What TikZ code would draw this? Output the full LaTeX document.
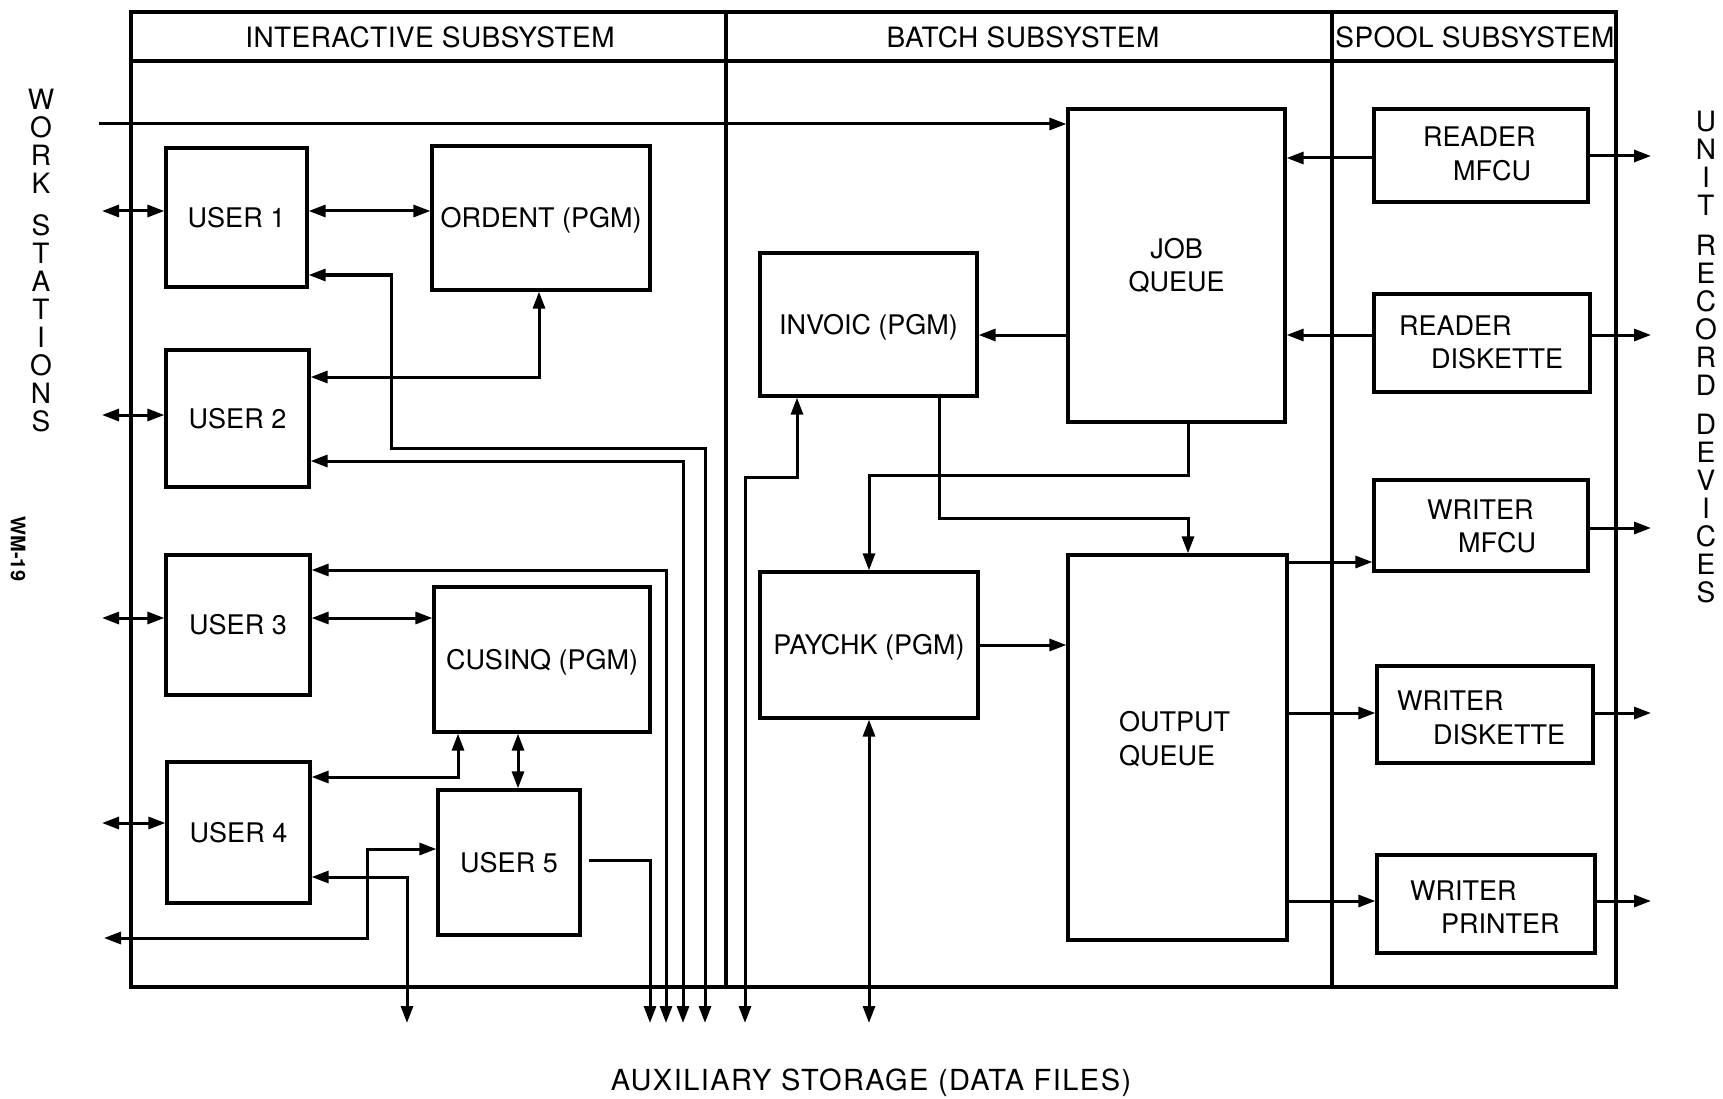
\documentclass[tikz,border=0pt]{standalone}
\usepackage{fontspec}
\setmainfont{TeX Gyre Heros}
\usetikzlibrary{arrows.meta}
\tikzset{
  box/.style={draw, line width=3.2pt, inner sep=0pt, text height=19.4pt, text depth=0pt, font=\fontsize{27}{33}\selectfont},
  boxm/.style={draw, line width=3.2pt, inner sep=0pt, align=center, font=\fontsize{27}{33}\selectfont},
  boxe/.style={draw, line width=3.2pt, inner sep=0pt},
  lbl/.style={inner sep=0pt, anchor=base west, font=\fontsize{27}{33}\selectfont},
  conn/.style={line width=3pt},
  frm/.style={line width=3.3pt},
  hdr/.style={inner sep=0pt, text height=20pt, text depth=0pt, font=\fontsize{28}{28}\selectfont\addfontfeature{LetterSpace=1.5}},
  stack/.style={inner sep=0pt, align=center, font=\fontsize{28}{28}\selectfont},
}
\begin{document}
\begin{tikzpicture}[x=1pt,y=-1pt, >={Triangle[length=17pt,width=12pt]}]
\useasboundingbox (0,0) rectangle (1723,1099);
\fill[white] (0,0) rectangle (1723,1099);

% frame
\draw[frm] (131,12) rectangle (1616,987);
\draw[frm] (131,61) -- (1616,61);
\draw[frm] (726,12) -- (726,987);
\draw[frm] (1332,12) -- (1332,987);
\node[hdr] (hint) at (430,38) {INTERACTIVE SUBSYSTEM};
\node[hdr] (hbat) at (1023,38) {BATCH SUBSYSTEM};
\node[hdr] (hspo) at (1475,38) {SPOOL SUBSYSTEM};

% boxes
\node[box, minimum width=141pt, minimum height=139pt] (u1) at (236.5,217.5) {USER 1};
\node[box, minimum width=218pt, minimum height=144pt] (ord) at (541,218) {ORDENT (PGM)};
\node[box, minimum width=143pt, minimum height=137pt] (u2) at (237.5,418.5) {USER 2};
\node[box, minimum width=144pt, minimum height=140pt] (u3) at (238,625) {USER 3};
\node[box, minimum width=216pt, minimum height=145pt] (cus) at (542,659.5) {CUSINQ (PGM)};
\node[box, minimum width=143pt, minimum height=141pt] (u4) at (238.5,832.5) {USER 4};
\node[box, minimum width=142pt, minimum height=145pt] (u5) at (509,862.5) {USER 5};
\node[box, minimum width=217pt, minimum height=143pt] (inv) at (868.5,324.5) {INVOIC (PGM)};
\node[boxm, minimum width=217pt, minimum height=313pt] (jq) at (1176.5,265.5) {JOB\\QUEUE};
\node[box, minimum width=218pt, minimum height=146pt] (pay) at (869,645) {PAYCHK (PGM)};
\node[boxe, minimum width=219pt, minimum height=385pt] (oq) at (1177.5,747.5) {};
\node[boxe, minimum width=214pt, minimum height=93pt] (rm) at (1481,155.5) {};
\node[boxe, minimum width=216pt, minimum height=98pt] (rd) at (1482,343) {};
\node[boxe, minimum width=214pt, minimum height=91pt] (wm) at (1481,525.5) {};
\node[boxe, minimum width=216pt, minimum height=97pt] (wd) at (1485,714.5) {};
\node[boxe, minimum width=218pt, minimum height=98pt] (wp) at (1486,904) {};

% box texts
\node[lbl] (oq1) at (1119,731) {OUTPUT};
\node[lbl] (oq2) at (1119,765) {QUEUE};
\node[lbl] (rm1) at (1423,147) {READER};
\node[lbl] (rm2) at (1453,181) {MFCU};
\node[lbl] (rd1) at (1399,335) {READER};
\node[lbl] (rd2) at (1431,368) {DISKETTE};
\node[lbl] (wm1) at (1427,519) {WRITER};
\node[lbl] (wm2) at (1458,552) {MFCU};
\node[lbl] (wd1) at (1397,710) {WRITER};
\node[lbl] (wd2) at (1433,744) {DISKETTE};
\node[lbl] (wp1) at (1410,900) {WRITER};
\node[lbl] (wp2) at (1441,933) {PRINTER};

% side labels
\node[stack] (wsl) at (41,261) {W\\O\\R\\K\\[14pt]S\\T\\A\\T\\I\\O\\N\\S};
\node[stack] (urd) at (1706,357.5) {U\\N\\I\\T\\[11.5pt]R\\E\\C\\O\\R\\D\\[11.5pt]D\\E\\V\\I\\C\\E\\S};
\node[inner sep=0pt, rotate=-90, font=\bfseries\fontsize{20}{20}\selectfont] (wm19) at (18,549) {WM-19};
\node[inner sep=0pt, text height=21pt, text depth=0pt, font=\fontsize{29}{29}\selectfont\addfontfeature{LetterSpace=5}] (aux) at (871,1080) {AUXILIARY STORAGE (DATA FILES)};

% free ends
\coordinate (wsin) at (99,124);
\coordinate (ws1) at (102,211);
\coordinate (ws2) at (102,415);
\coordinate (ws3) at (102,618);
\coordinate (ws4) at (102,823);
\coordinate (ws5) at (104,938);
\coordinate (ax407) at (407,1023);
\coordinate (ax650) at (650,1023);
\coordinate (ax666) at (666,1023);
\coordinate (ax683) at (683,1023);
\coordinate (ax705) at (705,1023);
\coordinate (ax745) at (745,1023);
\coordinate (ax869) at (869,1023);
\coordinate (ur1) at (1651,156);
\coordinate (ur2) at (1651,335);
\coordinate (ur3) at (1651,528);
\coordinate (ur4) at (1651,713);
\coordinate (ur5) at (1651,901);

% interactive connectors
\draw[conn,->] (wsin) -- (jq.west |- wsin);
\draw[conn,<->] (ws1) -- (u1.west |- ws1);
\draw[conn,<->] (ws2) -- (u2.west |- ws2);
\draw[conn,<->] (ws3) -- (u3.west |- ws3);
\draw[conn,<->] (ws4) -- (u4.west |- ws4);
\draw[conn,<->] (u1.east |- 0,211) -- (ord.west |- 0,211);
\draw[conn,<->] (u1.east |- 0,275) -- (391,275) -- (391,448) -- (705,448) -- (ax705);
\draw[conn,<->] (u2.east |- 0,377) -- (539,377) -- (ord.south -| 539,0);
\draw[conn,<->] (u2.east |- 0,461) -- (683,461) -- (ax683);
\draw[conn,<->] (u3.east |- 0,570) -- (666,570) -- (ax666);
\draw[conn,<->] (u3.east |- 0,618) -- (cus.west |- 0,618);
\draw[conn,<->] (u4.east |- 0,777) -- (458,777) -- (cus.south -| 458,0);
\draw[conn,<->] (cus.south -| 518,0) -- (u5.north -| 518,0);
\draw[conn,<->] (ws5) -- (367,938) -- (367,849) -- (u5.west |- 0,849);
\draw[conn,<->] (u4.east |- 0,877) -- (407,877) -- (ax407);
\draw[conn,->] (u5.east |- 0,860) ++(7,0) -- (650,860) -- (ax650);

% batch connectors
\draw[conn,<->] (inv.south -| 797,0) -- (797,477) -- (745,477) -- (ax745);
\draw[conn,<->] (pay.south) -- (ax869);
\draw[conn,->] (jq.west |- 0,335) -- (inv.east |- 0,335);
\draw[conn,->] (jq.south -| 1188,0) -- (1188,475) -- (869,475) -- (pay.north);
\draw[conn,->] (inv.south -| 939,0) -- (939,518) -- (1188,518) -- (oq.north -| 1188,0);
\draw[conn,->] (pay.east) -- (oq.west |- pay.east);

% spool connectors
\draw[conn,->] (rm.west |- 0,158) -- (jq.east |- 0,158);
\draw[conn,->] (rd.west |- 0,335) -- (jq.east |- 0,335);
\draw[conn,->] (rm.east |- ur1) -- (ur1);
\draw[conn,->] (rd.east |- ur2) -- (ur2);
\draw[conn,->] (oq.east |- 0,562) -- (wm.west |- 0,562);
\draw[conn,->] (wm.east |- ur3) -- (ur3);
\draw[conn,->] (oq.east |- 0,713) -- (wd.west |- 0,713);
\draw[conn,->] (wd.east |- ur4) -- (ur4);
\draw[conn,->] (oq.east |- 0,901) -- (wp.west |- 0,901);
\draw[conn,->] (wp.east |- ur5) -- (ur5);
\end{tikzpicture}
\end{document}
